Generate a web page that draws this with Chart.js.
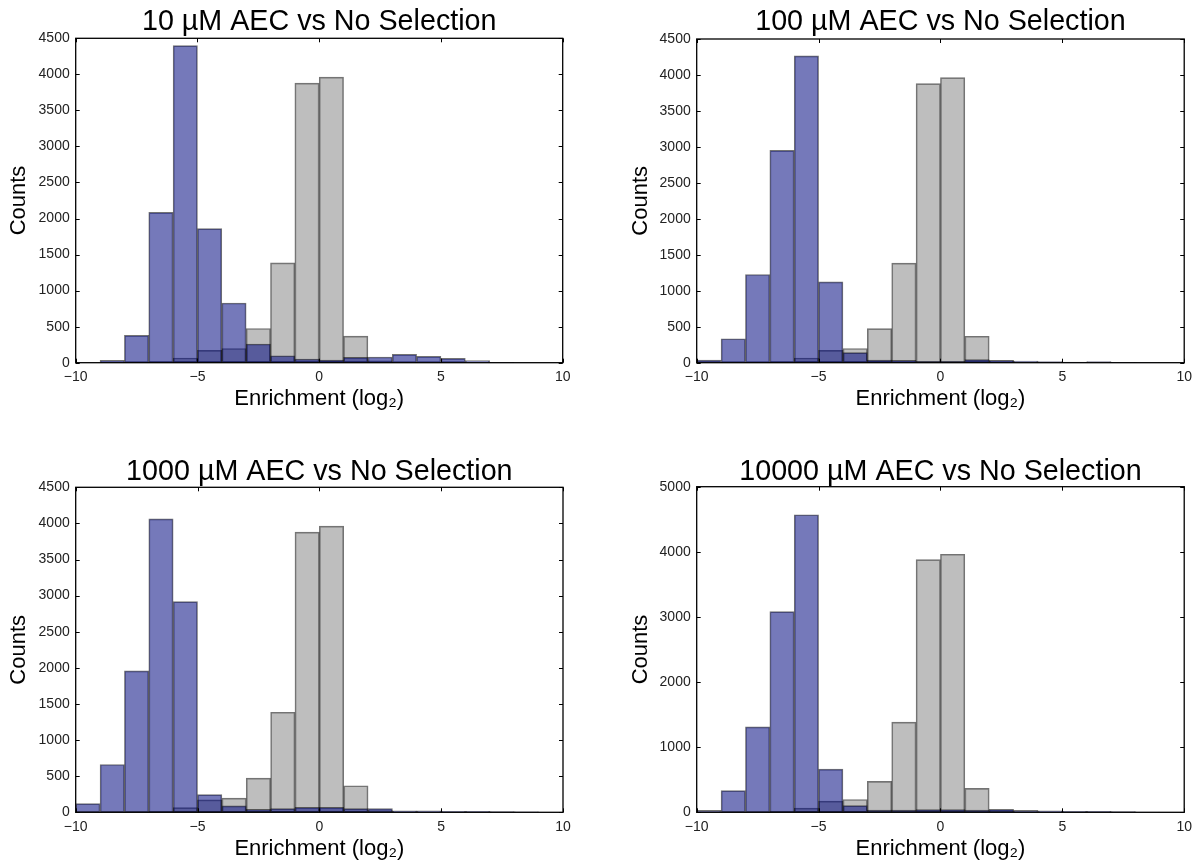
<!DOCTYPE html>
<html>
<head>
<meta charset="utf-8">
<script src="https://cdn.jsdelivr.net/npm/chart.js@4.4.1/dist/chart.umd.min.js"></script>
<style>
  html, body { margin: 0; padding: 0; background: #fff; }
  body { width: 1198px; height: 865px; position: relative; overflow: hidden; }
  .panel { position: absolute; width: 599px; }
</style>
</head>
<body>
<div class="panel" style="left:0;top:0;height:432px"><canvas id="c1"></canvas></div>
<div class="panel" style="left:599px;top:0;height:432px"><canvas id="c2"></canvas></div>
<div class="panel" style="left:0;top:432px;height:433px"><canvas id="c3"></canvas></div>
<div class="panel" style="left:599px;top:432px;height:433px"><canvas id="c4"></canvas></div>
<script>
// histogram bins of width 1 from -10 to 10 (centres)
const binCenters = [-9.5, -8.5, -7.5, -6.5, -5.5, -4.5, -3.5, -2.5, -1.5, -0.5,
                     0.5,  1.5,  2.5,  3.5,  4.5,  5.5,  6.5,  7.5,  8.5,  9.5];

// grey: no selection (same in every panel)
const noSelection = [0, 2, 5, 15, 65, 172, 197, 474, 1385, 3879, 3962, 368, 25, 8, 3, 1, 0, 0, 0, 0];

// blue: AEC selections
const aec10    = [0, 32, 379, 2086, 4399, 1859, 828, 259, 97, 51, 37, 74, 79, 116, 88, 60, 28, 5, 0, 0];
const aec100   = [37, 333, 1226, 2951, 4265, 1124, 139, 37, 32, 18, 18, 42, 32, 23, 14, 9, 14, 5, 2, 0];
const aec1000  = [120, 662, 1958, 4063, 2916, 245, 88, 42, 51, 69, 69, 51, 51, 19, 19, 14, 14, 9, 5, 0];
const aec10000 = [31, 333, 1313, 3082, 4569, 662, 103, 36, 36, 41, 41, 36, 46, 31, 21, 15, 15, 10, 5, 0];

const titles = ['10 µM AEC vs No Selection', '100 µM AEC vs No Selection',
                '1000 µM AEC vs No Selection', '10000 µM AEC vs No Selection'];
const xTickStep = 5;
const yMaxes = [4500, 4500, 4500, 5000];
const yTickSteps = [500, 500, 500, 1000];

const FONT = '"Liberation Sans", Arial, Helvetica, sans-serif';

// where each plot box sits inside its canvas
const panels = [
  { id: 'c1', data: aec10,    h: 432, l: 75.7, t: 38.3, r: 562.7, b: 362.7, titleMid: 22.5, yTitleMid: 19, xTitleMid: 399.2 },
  { id: 'c2', data: aec100,   h: 432, l: 97.7, t: 39,   r: 585.7, b: 362.7, titleMid: 22.5, yTitleMid: 42, xTitleMid: 399.2 },
  { id: 'c3', data: aec1000,  h: 433, l: 75.7, t: 55.3, r: 563,   b: 380.3, titleMid: 40,   yTitleMid: 19, xTitleMid: 416.8 },
  { id: 'c4', data: aec10000, h: 433, l: 97.7, t: 54.7, r: 586,   b: 380.3, titleMid: 40,   yTitleMid: 42, xTitleMid: 416.8 }
];

// matplotlib-like frame with inward ticks on all four sides, plus the title centred on the plot box
const frameAndTicks = {
  id: 'frameAndTicks',
  afterDatasetsDraw(chart, args, opts) {
    const { ctx, chartArea: a, scales: { x, y } } = chart;
    ctx.save();
    ctx.strokeStyle = '#000';
    ctx.lineWidth = 1;
    ctx.beginPath();
    x.ticks.forEach(t => {
      const px = Math.round(x.getPixelForValue(t.value)) + 0.5;
      ctx.moveTo(px, a.bottom); ctx.lineTo(px, a.bottom - 4);
      ctx.moveTo(px, a.top); ctx.lineTo(px, a.top + 4);
    });
    y.ticks.forEach(t => {
      const py = Math.round(y.getPixelForValue(t.value)) + 0.5;
      ctx.moveTo(a.left, py); ctx.lineTo(a.left + 4, py);
      ctx.moveTo(a.right, py); ctx.lineTo(a.right - 4, py);
    });
    ctx.stroke();
    ctx.lineWidth = 1.3;
    ctx.strokeRect(a.left, a.top, a.right - a.left, a.bottom - a.top);

    ctx.fillStyle = '#000';
    ctx.font = '28.7px ' + FONT;
    ctx.textAlign = 'center';
    ctx.textBaseline = 'middle';
    ctx.fillText(opts.text, (a.left + a.right) / 2, opts.mid);
    ctx.restore();
  }
};

const toPoints = vals => binCenters.map((c, i) => ({ x: c, y: vals[i] }));

panels.forEach((p, k) => {
  const axisLH = 22 * 1.2;

  new Chart(document.getElementById(p.id), {
    type: 'bar',
    data: {
      datasets: [
        {
          label: titles[k],
          data: toPoints(p.data),
          backgroundColor: 'rgba(0, 8, 128, 0.54)',
          borderColor: 'rgba(0, 0, 0, 0.55)',
          borderWidth: 1,
          borderSkipped: false,
          order: 0
        },
        {
          label: 'No Selection',
          data: toPoints(noSelection),
          backgroundColor: 'rgba(125, 125, 125, 0.5)',
          borderColor: 'rgba(0, 0, 0, 0.55)',
          borderWidth: 1,
          borderSkipped: false,
          order: 1
        }
      ]
    },
    options: {
      responsive: true,
      maintainAspectRatio: false,
      animation: false,
      events: [],
      grouped: false,
      barPercentage: 1,
      categoryPercentage: 1,
      layout: { padding: { left: 0, top: p.t, right: 599 - p.r, bottom: 0 } },
      plugins: {
        legend: { display: false },
        tooltip: { enabled: false },
        title: { display: false },
        frameAndTicks: { text: titles[k], mid: p.titleMid }
      },
      scales: {
        x: {
          type: 'linear',
          min: -10,
          max: 10,
          offset: false,
          grid: { display: false, drawTicks: false, offset: false },
          border: { display: false },
          ticks: {
            stepSize: xTickStep,
            padding: 6,
            color: '#222',
            font: { family: FONT, size: 14 },
            maxRotation: 0,
            callback: v => (v < 0 ? '\u2212' + Math.abs(v) : String(v))
          },
          title: {
            display: true,
            text: 'Enrichment (log\u2082)',
            color: '#000',
            font: { family: FONT, size: 22, lineHeight: 1.2 },
            padding: { top: 0, bottom: (p.h - p.xTitleMid) - axisLH / 2 }
          },
          afterFit(scale) { scale.height = p.h - p.b; }
        },
        y: {
          min: 0,
          max: yMaxes[k],
          grid: { display: false, drawTicks: false },
          border: { display: false },
          ticks: {
            stepSize: yTickSteps[k],
            padding: 6,
            color: '#222',
            font: { family: FONT, size: 14 },
            callback: v => String(v)
          },
          title: {
            display: true,
            text: 'Counts',
            color: '#000',
            font: { family: FONT, size: 22, lineHeight: 1.2 },
            padding: { top: p.yTitleMid - axisLH / 2, bottom: 0 }
          },
          afterFit(scale) { scale.width = p.l; }
        }
      }
    },
    plugins: [frameAndTicks]
  });
});
</script>
</body>
</html>
